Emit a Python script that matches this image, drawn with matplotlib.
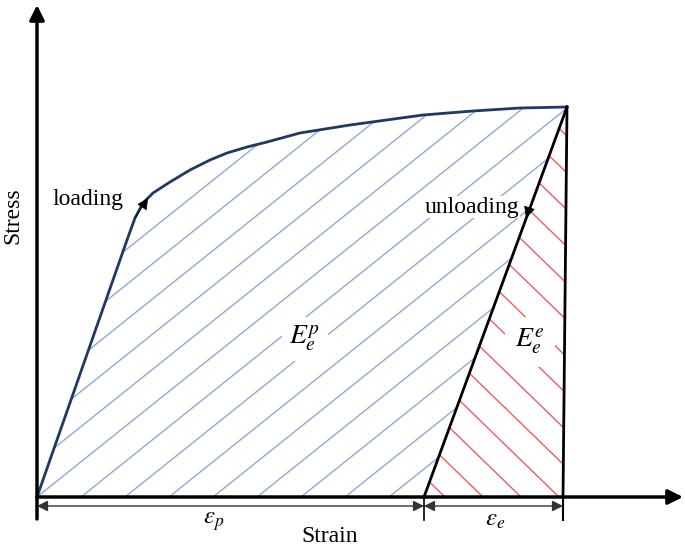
import numpy as np
import matplotlib
matplotlib.use("Agg")
import matplotlib.pyplot as plt
from matplotlib.patches import Polygon

plt.rcParams['font.family'] = ['Liberation Serif', 'DejaVu Serif']
plt.rcParams['mathtext.fontset'] = 'stix'

# loading curve (strain, stress) in drawing units
loading_strain = [0, 90, 98, 106, 116, 133, 153, 173, 190, 210, 230, 263, 313, 386, 436, 483, 530]
loading_stress = [0, 257, 279, 294, 304, 315, 327, 337, 344, 350, 355, 364, 372, 382, 386, 389, 390]
# elastic unloading line and the line down from the peak
unload_strain = [530, 387]
unload_stress = [390, 0]
drop_strain = [530, 526]
drop_stress = [390, 0]

eps_p_end = 387   # plastic strain
eps_e_end = 526   # total strain

fig = plt.figure(figsize=(6.85, 5.48), dpi=100)
ax = fig.add_axes([0, 0, 1, 1])
ax.set_xlim(-37, 648)
ax.set_ylim(-51, 497)
ax.axis('off')

# hatched regions
blue_poly = Polygon(list(zip(loading_strain, loading_stress)) + [(unload_strain[1], 0)],
                    closed=True, facecolor='none', edgecolor='none')
red_poly = Polygon([(unload_strain[1], 0), (unload_strain[0], unload_stress[0]), (drop_strain[1], 0)],
                   closed=True, facecolor='none', edgecolor='none')
ax.add_patch(blue_poly)
ax.add_patch(red_poly)

for c in np.arange(-616, 440, 44):
    ln, = ax.plot([c, c + 700], [0, 0.8 * 700], color='#8eaadb', lw=1.0)
    ln.set_clip_path(blue_poly)

for c in np.arange(370, 1000, 38):
    ln, = ax.plot([c - 700, c], [0.97 * 700, 0], color='#f45b5b', lw=1.0)
    ln.set_clip_path(red_poly)

# curves
ax.plot(loading_strain, loading_stress, color='#1f3864', lw=2.0,
        solid_capstyle='round', solid_joinstyle='round')
ax.plot(unload_strain, unload_stress, color='black', lw=2.0)
ax.plot(drop_strain, drop_stress, color='black', lw=2.0)

# direction arrows
tip = ((loading_strain[3] + loading_strain[4]) / 2, (loading_stress[3] + loading_stress[4]) / 2)
ax.annotate('', xy=tip, xytext=(loading_strain[2], loading_stress[2]),
            arrowprops=dict(arrowstyle='-|>', color='black', lw=0.5, mutation_scale=18,
                            shrinkA=0, shrinkB=0))
ax.annotate('', xy=(489, 279), xytext=(492, 288),
            arrowprops=dict(arrowstyle='-|>', color='black', lw=0.5, mutation_scale=18,
                            shrinkA=0, shrinkB=0))

# axes
ax.annotate('', xy=(0, 492), xytext=(0, -22),
            arrowprops=dict(arrowstyle='-|>', color='black', lw=2.5, mutation_scale=22,
                            shrinkA=0, shrinkB=0))
ax.annotate('', xy=(646, 0), xytext=(0, 0),
            arrowprops=dict(arrowstyle='-|>', color='black', lw=2.5, mutation_scale=22,
                            shrinkA=0, shrinkB=0))

# dimension lines
ax.plot([eps_p_end, eps_p_end], [0, -23], color='black', lw=1.2)
ax.plot([eps_e_end, eps_e_end], [0, -23], color='black', lw=1.5)
ax.annotate('', xy=(0, -9), xytext=(eps_p_end, -9),
            arrowprops=dict(arrowstyle='<|-|>', color='#333333', lw=1.0, mutation_scale=16,
                            shrinkA=0, shrinkB=0))
ax.annotate('', xy=(eps_p_end, -9), xytext=(eps_e_end, -9),
            arrowprops=dict(arrowstyle='<|-|>', color='#333333', lw=1.0, mutation_scale=16,
                            shrinkA=0, shrinkB=0))

# labels
ax.text(177, -25, r'$\varepsilon_p$', fontsize=18, ha='center', va='center')
ax.text(458, -23, r'$\varepsilon_e$', fontsize=18, ha='center', va='center')
ax.text(293, -40, 'Strain', fontsize=17, ha='center', va='center')
ax.text(-24, 281, 'Stress', fontsize=17, ha='center', va='center', rotation=90)
ax.text(51, 297, 'loading', fontsize=17, ha='center', va='center')
ax.text(435, 290, 'unloading', fontsize=17, ha='center', va='center',
        bbox=dict(facecolor='white', edgecolor='none', pad=0.5))
ax.text(268, 158, r'$E_e^p$', fontsize=20, ha='center', va='center',
        bbox=dict(facecolor='white', edgecolor='none', pad=5))
ax.text(493, 155, r'$E_e^e$', fontsize=20, ha='center', va='center',
        bbox=dict(facecolor='white', edgecolor='none', pad=7))

fig.savefig('out.png', dpi=100)
